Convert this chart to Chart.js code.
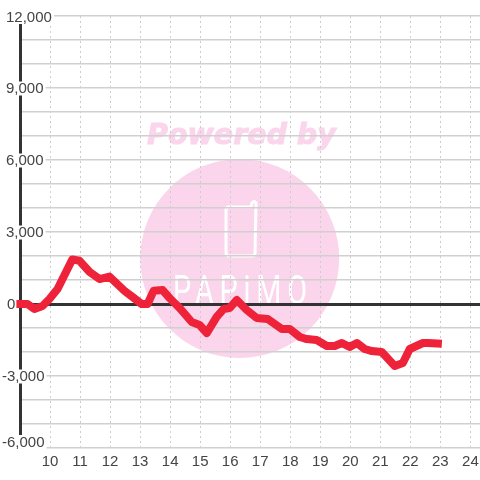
<!DOCTYPE html>
<html lang="en">
<head>
<meta charset="UTF-8">
<title>Balance</title>
<script src="https://cdn.jsdelivr.net/npm/chart.js"></script>
<style>
  html, body { margin: 0; padding: 0; background: #fff; }
  canvas { display: block; }
</style>
</head>
<body>
<canvas id="chart" width="480" height="480"></canvas>
<script>
// values
var hours = [8.88, 9.25, 9.48, 9.75, 9.98, 10.25, 10.74, 10.98, 11.32, 11.65, 11.98, 12.48, 12.75, 13.05, 13.25, 13.45, 13.75, 13.98, 14.32, 14.72, 14.98, 15.22, 15.55, 15.78, 15.98, 16.22, 16.55, 16.88, 17.25, 17.72, 17.98, 18.32, 18.55, 18.88, 19.22, 19.48, 19.72, 19.98, 20.22, 20.48, 20.72, 21.05, 21.48, 21.75, 21.98, 22.42, 22.58, 23.05];
var balance = [0, 0, -208, -83, 208, 625, 1858, 1800, 1333, 1040, 1140, 550, 290, 0, 0, 550, 580, 250, -170, -750, -875, -1210, -540, -210, -170, 165, -250, -580, -625, -1040, -1040, -1375, -1460, -1500, -1750, -1750, -1625, -1790, -1625, -1875, -1960, -2000, -2580, -2460, -1875, -1625, -1625, -1660];
var xTicks = [10, 11, 12, 13, 14, 15, 16, 17, 18, 19, 20, 21, 22, 23, 24];
var yGrid = [-6000, -5000, -4000, -3000, -2000, -1000, 0, 1000, 2000, 3000, 4000, 5000, 6000, 7000, 8000, 9000, 10000, 11000, 12000];
var yLabels = [12000, 9000, 6000, 3000, 0, -3000, -6000];

var FONT = '15px "Liberation Sans", Arial, sans-serif';

// pink logo behind the grid
var watermark = {
  id: 'watermark',
  beforeDraw: function (chart) {
    var c = chart.ctx;
    c.save();
    c.fillStyle = '#fbd5ec';
    c.beginPath();
    c.arc(239.7, 258.5, 99.5, 0, Math.PI * 2);
    c.fill();

    c.font = 'italic bold 28.5px "DejaVu Sans"';
    c.textAlign = 'left';
    c.textBaseline = 'alphabetic';
    c.strokeStyle = '#fbd5ec';
    c.lineWidth = 1;
    c.fillText('Powered by', 147, 144);
    c.strokeText('Powered by', 147, 144);

    c.strokeStyle = '#fff';
    c.lineWidth = 3;
    c.lineJoin = 'round';
    c.beginPath();
    c.moveTo(251, 207);
    c.lineTo(229, 207);
    c.quadraticCurveTo(226, 207, 226, 210);
    c.lineTo(226, 253);
    c.quadraticCurveTo(226, 256, 229, 256);
    c.lineTo(252, 256);
    c.quadraticCurveTo(255, 256, 255, 253);
    c.lineTo(256, 203);
    c.quadraticCurveTo(254, 200, 252, 203);
    c.closePath();
    c.stroke();

    // narrow, widely spaced logo lettering
    c.fillStyle = '#fff';
    c.font = '400 40px Roboto';
    c.letterSpacing = '8px';
    c.translate(173, 304);
    c.scale(0.72, 1);
    c.fillText('PAPiMO', 0, 0);
    c.restore();
  }
};

// y labels sit on white boxes that break the axis and the grid lines
var yLabelBoxes = {
  id: 'yLabelBoxes',
  beforeDatasetsDraw: function (chart) {
    var c = chart.ctx;
    var y = chart.scales.y;
    c.save();
    c.font = FONT;
    c.textAlign = 'left';
    c.textBaseline = 'middle';
    yLabels.forEach(function (v) {
      var text = v.toLocaleString('en-US');
      var left = v < 0 ? 2 : (v === 0 ? 7 : 6);
      var py = y.getPixelForValue(v) + (v === 12000 ? 1 : (v === -6000 ? -6 : 0.5));
      var w = c.measureText(text).width;
      c.fillStyle = '#fff';
      c.fillRect(0, py - 7, left + w + 2, 14);
      c.fillStyle = '#444';
      c.fillText(text, left, py + 0.5);
    });
    c.restore();
  }
};

new Chart(document.getElementById('chart'), {
  type: 'line',
  data: {
    datasets: [{
      data: hours.map(function (h, i) { return { x: h, y: balance[i] }; }),
      borderColor: '#ee2238',
      borderWidth: 8,
      borderJoinStyle: 'round',
      pointRadius: 0,
      tension: 0,
      fill: false,
      clip: false
    }]
  },
  options: {
    responsive: false,
    devicePixelRatio: 1,
    animation: false,
    layout: { padding: { top: 16, right: 0, bottom: 0, left: 0 } },
    plugins: { legend: { display: false }, tooltip: { enabled: false } },
    scales: {
      x: {
        type: 'linear',
        min: 9,
        max: 24.32,
        afterBuildTicks: function (s) { s.ticks = xTicks.map(function (v) { return { value: v }; }); },
        afterFit: function (s) { s.height = 32; s.paddingRight = 0; s.paddingLeft = 0; },
        border: { display: false, dash: [2, 3] },
        grid: { color: '#ccc', lineWidth: 1, drawTicks: false },
        ticks: { color: '#444', font: { family: '"Liberation Sans", Arial, sans-serif', size: 15 }, padding: 5, maxRotation: 0, autoSkip: false }
      },
      y: {
        min: -6000,
        max: 12000,
        afterBuildTicks: function (s) { s.ticks = yGrid.map(function (v) { return { value: v }; }); },
        afterFit: function (s) { s.width = 20; s.paddingTop = 0; s.paddingBottom = 0; },
        border: { display: true, color: '#333', width: 3 },
        grid: {
          drawTicks: false,
          color: function (ctx) { return ctx.tick.value === 0 ? '#333' : '#d0d0d0'; },
          lineWidth: function (ctx) { return ctx.tick.value === 0 ? 3 : 1.5; }
        },
        ticks: { display: false }
      }
    }
  },
  plugins: [watermark, yLabelBoxes]
});
</script>
</body>
</html>
